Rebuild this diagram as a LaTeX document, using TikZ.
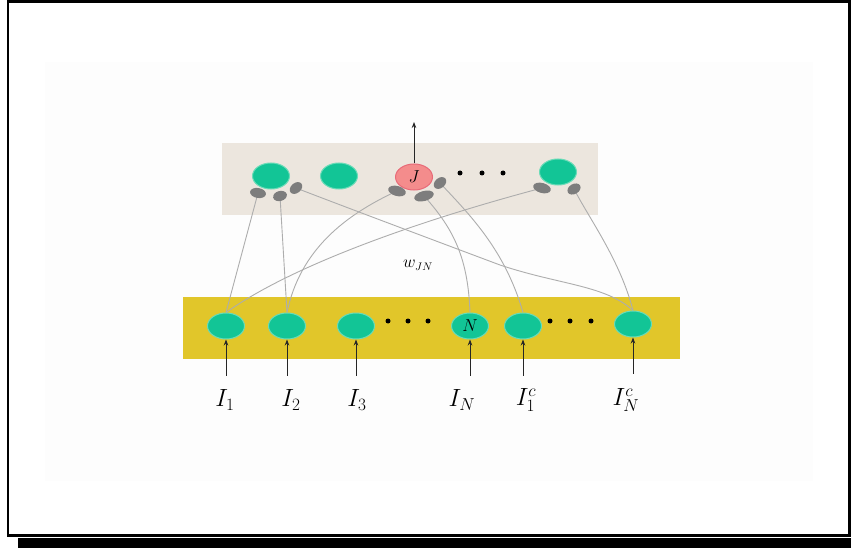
\documentclass[tikz,border=0pt]{standalone}
\usetikzlibrary{shapes.geometric,arrows.meta}
\pgfdeclarelayer{bg}\pgfdeclarelayer{mid}\pgfsetlayers{bg,mid,main}
\definecolor{gfill}{HTML}{12C596}
\definecolor{gline}{HTML}{6ADCB8}
\definecolor{pfill}{HTML}{F48C8C}
\definecolor{pline}{HTML}{E86A78}
\definecolor{beige}{HTML}{ECE6DE}
\definecolor{yel}{HTML}{E1C62A}
\definecolor{sync}{HTML}{7D7D7D}
\definecolor{wirec}{HTML}{ADADAD}
\definecolor{faint}{HTML}{FDFDFD}
\begin{document}
\begin{tikzpicture}[x=1pt,y=-1pt,
 neuron/.style={ellipse, minimum width=37pt, minimum height=26pt, inner sep=0pt, fill=gfill, draw=gline, line width=1pt},
 jneuron/.style={neuron, fill=pfill, draw=pline},
 synapse/.style={ellipse, minimum width=16pt, minimum height=10pt, inner sep=0pt, fill=sync},
 wire/.style={draw=wirec, line width=0.9pt},
 inarrow/.style={-{Stealth[length=6pt,width=4.5pt]}, line width=0.8pt, black!85},
 lab/.style={font=\fontsize{25}{27}\selectfont, inner sep=0pt},
 nlab/.style={font=\fontsize{16}{17}\selectfont}
]
\useasboundingbox (0,0) rectangle (851,548);
% frame
\draw[line width=2.5pt] (8,1.5) rectangle (849.5,535.5);
\fill (18,537.5) rectangle (851,548);
\begin{pgfonlayer}{bg}
\fill[faint] (45,62) rectangle (813,481);
\fill[beige] (222,143) rectangle (598,215);
\fill[yel] (183,297) rectangle (680,359);
\end{pgfonlayer}
% top layer neurons
\node[neuron] (t1) at (271,176) {};
\node[neuron] (t2) at (339,176) {};
\node[jneuron, nlab] (tj) at (414,177) {$J$};
\node[neuron] (t4) at (558,172) {};
\foreach \x in {460,482,503} \fill (\x,173) circle (2.5pt);
% synapses
\node[synapse, rotate=-10] (s1a) at (258,193) {};
\node[synapse, rotate=15, minimum width=14pt] (s1b) at (280,196) {};
\node[synapse, rotate=40, minimum width=14pt] (s1c) at (296,188) {};
\node[synapse, rotate=-15, minimum width=18pt] (sja) at (397,191) {};
\node[synapse, rotate=15, minimum width=20pt] (sjb) at (424,196) {};
\node[synapse, rotate=40, minimum width=14pt] (sjc) at (440,183) {};
\node[synapse, rotate=-15, minimum width=18pt] (s4a) at (542,188) {};
\node[synapse, rotate=30, minimum width=14pt] (s4b) at (574,189) {};
% output
\coordinate (out) at (414,122);
\draw[inarrow] (tj.north) -- (out);
% bottom layer neurons
\node[neuron] (b1) at (226,326) {};
\node[neuron] (b2) at (287,326) {};
\node[neuron] (b3) at (356,326) {};
\node[neuron, nlab] (bn) at (470,326) {$N$};
\node[neuron] (b5) at (523,326) {};
\node[neuron] (b6) at (633,324) {};
\foreach \x in {388,408,428,550,570,591} \fill (\x,321) circle (2.5pt);
% wires
\begin{pgfonlayer}{mid}
\draw[wire] (b1.north) -- (s1a.center);
\draw[wire] (b2.north) -- (s1b.center);
\draw[wire] (b1.north) .. controls (300,260) and (440,215) .. (s4a.center);
\draw[wire] (b2.north) .. controls (300,250) and (345,215) .. (sja.center);
\draw[wire] (bn.north) .. controls (468,260) and (455,230) .. (sjb.center);
\draw[wire] (b5.north) .. controls (505,250) and (470,215) .. (sjc.center);
\draw[wire] (b6.north) .. controls (620,260) and (590,220) .. (s4b.center);
\draw[wire] (b6.north) .. controls (605,285) and (560,285) .. (500,265) .. controls (420,235) and (340,205) .. (s1c.center);
\end{pgfonlayer}
% inputs
\node[lab] (i1) at (225,400) {$I_1$};
\node[lab] (i2) at (291,400) {$I_2$};
\node[lab] (i3) at (357,400) {$I_3$};
\node[lab] (iN) at (462,400) {$I_N$};
\node[lab] (i1c) at (526,400) {$I_1^c$};
\node[lab] (iNc) at (626,400) {$I_N^c$};
\foreach \n in {b1,b2,b3,bn,b5,b6}
  \draw[inarrow] ([yshift=-36pt]\n.south) -- (\n.south);
% weight label
\node[nlab] (w) at (418,265) {$w_{JN}$};
\end{tikzpicture}
\end{document}
